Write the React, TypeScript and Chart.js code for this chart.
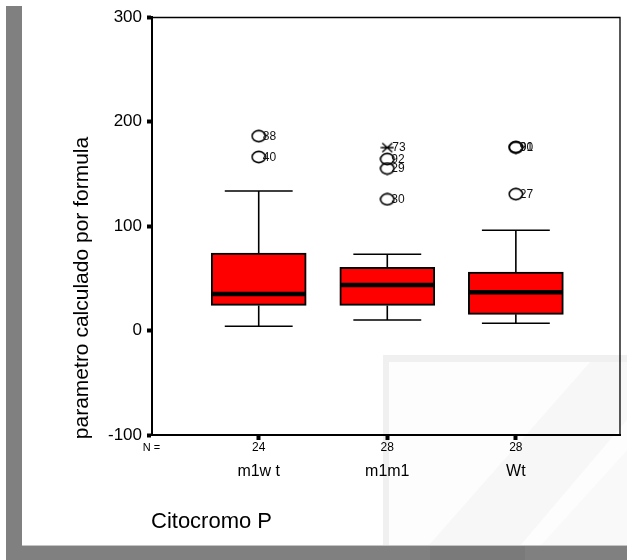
import React, { useEffect, useRef } from 'react';
import { Chart, registerables } from 'chart.js';

Chart.register(...registerables);

// ---- data ----
const categories = ['m1w t', 'm1m1', 'Wt'];
const counts = ['24', '28', '28'];
const whiskerLow = [4, 10, 7];
const q1 = [24, 24, 15.5];
const median = [35, 43.5, 36.5];
const q3 = [74, 60.5, 56];
const whiskerHigh = [133.5, 73, 96];
const outlierGroup = [1, 1, 2, 2, 2, 3, 3, 3];
const outlierValue = [186, 166, 164, 155, 125.5, 175, 175.5, 130.5];
const outlierLabel = ['88', '40', '92', '29', '30', '90', '91', '27'];
const extremeGroup = [2];
const extremeValue = [175];
const extremeLabel = ['73'];
const yTicks = [-100, 0, 100, 200, 300];

const FONT = "'Liberation Sans', Arial, sans-serif";

function makeCircle(): HTMLCanvasElement {
  const c = document.createElement('canvas');
  c.width = 16; c.height = 14;
  const g = c.getContext('2d')!;
  g.strokeStyle = '#000';
  g.lineWidth = 1.6;
  g.beginPath();
  g.ellipse(8, 7, 6.7, 5.6, 0, 0, Math.PI * 2);
  g.stroke();
  return c;
}

function makeStar(): HTMLCanvasElement {
  const c = document.createElement('canvas');
  c.width = 14; c.height = 12;
  const g = c.getContext('2d')!;
  g.strokeStyle = '#000';
  g.lineWidth = 1.4;
  g.beginPath();
  g.moveTo(2, 1.5); g.lineTo(12, 10.5);
  g.moveTo(12, 1.5); g.lineTo(2, 10.5);
  g.moveTo(0.5, 6); g.lineTo(13.5, 6);
  g.stroke();
  return c;
}

const backgroundPlugin = {
  id: 'bgDecor',
  beforeDraw(chart: any) {
    const ctx = chart.ctx as CanvasRenderingContext2D;
    ctx.save();
    ctx.fillStyle = '#ffffff';
    ctx.fillRect(0, 0, 627, 560);
    // faint watermark in the lower right
    ctx.fillStyle = '#f0f0f0';
    ctx.fillRect(383, 355, 244, 191);
    ctx.fillStyle = '#fdfdfd';
    ctx.fillRect(389, 362, 238, 184);
    ctx.fillStyle = 'rgba(0,0,0,0.025)';
    ctx.beginPath();
    ctx.moveTo(428, 546);
    ctx.lineTo(520, 546);
    ctx.lineTo(627, 420);
    ctx.lineTo(627, 362);
    ctx.lineTo(590, 362);
    ctx.closePath();
    ctx.fill();
    ctx.fillStyle = 'rgba(0,0,0,0.015)';
    ctx.beginPath();
    ctx.moveTo(540, 546);
    ctx.lineTo(627, 546);
    ctx.lineTo(627, 450);
    ctx.closePath();
    ctx.fill();
    // grey frame strips
    ctx.fillStyle = '#808080';
    ctx.fillRect(6, 6, 16, 554);
    ctx.fillRect(6, 546, 621, 14);
    ctx.fillStyle = '#7a7a7a';
    ctx.fillRect(430, 546, 95, 14);
    ctx.fillStyle = '#c4c4c4';
    ctx.fillRect(22, 545, 605, 1);
    ctx.restore();
  },
};

const boxPlugin = {
  id: 'boxDecor',
  afterDatasetsDraw(chart: any) {
    const ctx = chart.ctx as CanvasRenderingContext2D;
    const xs = chart.scales.x;
    const ys = chart.scales.y;
    const area = chart.chartArea;
    ctx.save();
    ctx.strokeStyle = '#000';
    categories.forEach((_, i) => {
      const cx = xs.getPixelForValue(i + 1);
      const capHalf = (xs.getPixelForValue(i + 1 + 0.264) - cx);
      const boxHalf = 47.5;
      const yLo = ys.getPixelForValue(whiskerLow[i]);
      const yQ1 = ys.getPixelForValue(q1[i]);
      const yQ3 = ys.getPixelForValue(q3[i]);
      const yHi = ys.getPixelForValue(whiskerHigh[i]);
      const yMed = ys.getPixelForValue(median[i]);
      ctx.lineWidth = 1.6;
      ctx.beginPath();
      ctx.moveTo(cx, yQ3); ctx.lineTo(cx, yHi);
      ctx.moveTo(cx - capHalf, yHi); ctx.lineTo(cx + capHalf, yHi);
      ctx.moveTo(cx, yQ1); ctx.lineTo(cx, yLo);
      ctx.moveTo(cx - capHalf, yLo); ctx.lineTo(cx + capHalf, yLo);
      ctx.stroke();
      ctx.lineWidth = 4.5;
      ctx.beginPath();
      ctx.moveTo(cx - boxHalf + 1, yMed); ctx.lineTo(cx + boxHalf - 1, yMed);
      ctx.stroke();
    });
    // outlier labels
    ctx.fillStyle = '#111';
    ctx.font = `12px ${FONT}`;
    ctx.textBaseline = 'middle';
    ctx.textAlign = 'left';
    outlierValue.forEach((v, i) => {
      const x = xs.getPixelForValue(outlierGroup[i]) + 4;
      const y = ys.getPixelForValue(v);
      ctx.fillText(outlierLabel[i], x, y + 0.5);
    });
    extremeValue.forEach((v, i) => {
      const x = xs.getPixelForValue(extremeGroup[i]) + 5;
      const y = ys.getPixelForValue(v);
      ctx.fillText(extremeLabel[i], x, y + 0.5);
    });
    // thin frame top and right
    ctx.lineWidth = 1.3;
    ctx.strokeStyle = '#000';
    ctx.beginPath();
    ctx.moveTo(area.left, area.top + 0.5);
    ctx.lineTo(area.right, area.top + 0.5);
    ctx.lineTo(area.right, area.bottom);
    ctx.stroke();
    ctx.restore();
  },
  afterDraw(chart: any) {
    const ctx = chart.ctx as CanvasRenderingContext2D;
    const xs = chart.scales.x;
    ctx.save();
    ctx.fillStyle = '#000';
    ctx.textBaseline = 'alphabetic';
    ctx.font = `11px ${FONT}`;
    ctx.textAlign = 'center';
    ctx.fillText('N =', 151.5, 451);
    ctx.font = `16px ${FONT}`;
    categories.forEach((c, i) => {
      ctx.fillText(c, xs.getPixelForValue(i + 1), 476);
    });
    ctx.textAlign = 'left';
    ctx.font = `22px ${FONT}`;
    ctx.fillText('Citocromo P', 151, 528);
    ctx.translate(88, 288);
    ctx.rotate(-Math.PI / 2);
    ctx.textAlign = 'center';
    ctx.font = `21px ${FONT}`;
    ctx.fillText('parametro calculado por formula', 0, 0);
    ctx.restore();
  },
};

export default function App() {
  const ref = useRef<HTMLCanvasElement | null>(null);
  useEffect(() => {
    if (!ref.current) return;
    const circle = makeCircle();
    const star = makeStar();
    const chart = new Chart(ref.current, {
      type: 'scatter',
      data: {
        datasets: [
          {
            type: 'bar',
            data: categories.map((_, i) => ({ x: i + 1, y: [q1[i], q3[i]] })) as any,
            backgroundColor: '#ff0000',
            borderColor: '#000000',
            borderWidth: 2,
            borderSkipped: false,
            barThickness: 95,
            order: 3,
          } as any,
          {
            type: 'scatter',
            data: outlierValue.map((v, i) => ({ x: outlierGroup[i], y: v })),
            pointStyle: circle as any,
            pointRadius: 6,
            order: 1,
          },
          {
            type: 'scatter',
            data: extremeValue.map((v, i) => ({ x: extremeGroup[i], y: v })),
            pointStyle: star as any,
            pointRadius: 6,
            order: 1,
          },
        ],
      },
      options: {
        animation: false,
        responsive: false,
        maintainAspectRatio: false,
        events: [],
        layout: { padding: { top: 17, right: 5, left: 0, bottom: 0 } },
        plugins: { legend: { display: false }, tooltip: { enabled: false } },
        scales: {
          x: {
            type: 'linear',
            min: 0.17,
            max: 3.81,
            offset: false,
            afterBuildTicks: (s: any) => { s.ticks = [1, 2, 3].map((v) => ({ value: v })); },
            afterFit: (s: any) => { s.height = 125; },
            ticks: {
              callback: (_v: any, i: number) => counts[i],
              font: { size: 12, family: FONT },
              color: '#000',
              padding: 0,
              maxRotation: 0,
              autoSkip: false,
            },
            grid: { offset: false, drawOnChartArea: false, tickLength: 5, tickWidth: 4, color: '#000' },
            border: { color: '#000', width: 2 },
          },
          y: {
            type: 'linear',
            min: -100,
            max: 300,
            beginAtZero: false,
            afterBuildTicks: (s: any) => { s.ticks = yTicks.map((v) => ({ value: v })); },
            afterFit: (s: any) => { s.width = 152; },
            ticks: {
              font: { size: 17, family: FONT },
              color: '#000',
              padding: 5,
              autoSkip: false,
            },
            grid: { drawOnChartArea: false, tickLength: 5, tickWidth: 4, color: '#000' },
            border: { color: '#000', width: 2 },
          },
        },
      },
      plugins: [backgroundPlugin, boxPlugin],
    });
    return () => chart.destroy();
  }, []);
  return (
    <div style={{ position: 'fixed', left: 0, top: 0, width: 627, height: 560 }}>
      <canvas ref={ref} width={627} height={560} style={{ display: 'block', width: 627, height: 560 }} />
    </div>
  );
}
